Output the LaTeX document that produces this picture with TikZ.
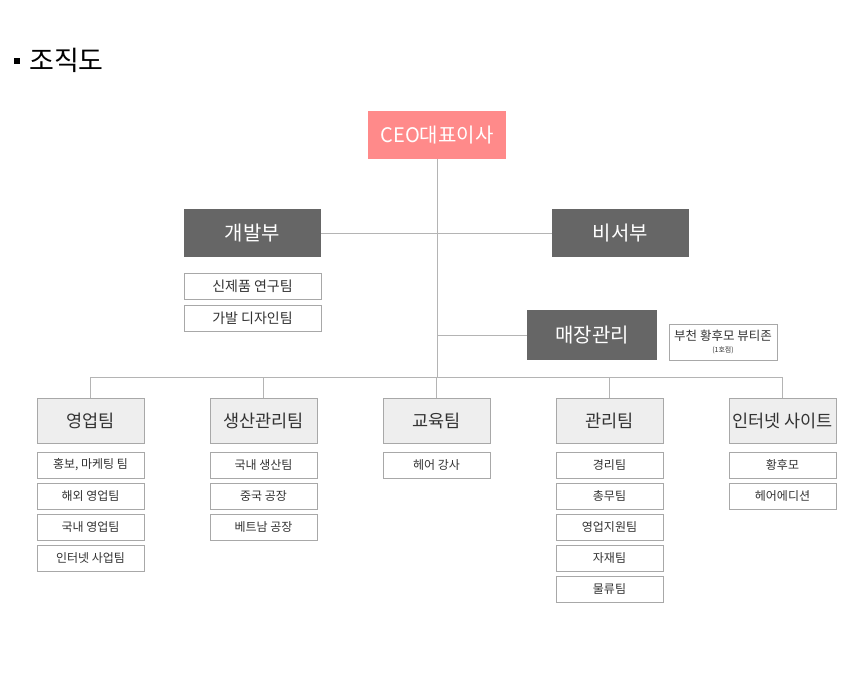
\documentclass[tikz,border=0pt]{standalone}
\usepackage{fontspec}
\setmainfont{Noto Sans CJK KR}
\usepackage{tikz}
\usetikzlibrary{positioning,calc}
\definecolor{ceopink}{HTML}{FF8A8A}
\definecolor{deptgray}{HTML}{666666}
\definecolor{teamfill}{HTML}{EEEEEE}
\definecolor{boxline}{HTML}{A8A8A8}
\definecolor{linegray}{HTML}{B4B4B4}
\definecolor{ink}{HTML}{333333}

\tikzset{
  ceobox/.style={fill=ceopink,text=white,inner sep=0pt,minimum width=138pt,minimum height=48pt,font=\fontsize{20}{22}\selectfont},
  deptbox/.style={fill=deptgray,text=white,inner sep=0pt,minimum width=137pt,minimum height=48pt,font=\fontsize{20}{22}\selectfont},
  teambox/.style={fill=teamfill,draw=boxline,text=ink,inner sep=0pt,minimum width=107pt,minimum height=45pt,font=\fontsize{17.5}{20}\selectfont},
  subbox/.style={fill=white,draw=boxline,text=ink,inner sep=0pt,minimum width=107pt,minimum height=26pt,font=\fontsize{12}{14}\selectfont},
  link/.style={draw=linegray,line width=0.8pt}
}

\begin{document}
\begin{tikzpicture}[x=1pt,y=-1pt]
  \useasboundingbox (0,0) rectangle (847,673);

  \fill[black] (14,58) rectangle (19.5,64);
  \node[anchor=west,inner sep=0pt,font=\fontsize{27}{30}\selectfont] (title) at (29,60) {조직도};

  \node[ceobox] (ceo) at (437,135) {CEO대표이사};
  \node[deptbox] (dev) at (252.5,233) {개발부};
  \node[deptbox] (sec) at (620.5,233) {비서부};
  \node[subbox,minimum width=137pt,font=\fontsize{14}{16}\selectfont] (dev1) at (252.5,286) {신제품 연구팀};
  \node[subbox,minimum width=137pt,font=\fontsize{14}{16}\selectfont] (dev2) at (252.5,318) {가발 디자인팀};

  \node[deptbox,minimum width=130pt,minimum height=50pt] (store) at (592,335) {매장관리};
  \node[subbox,minimum width=108pt,minimum height=36pt,align=center,font=\fontsize{12.5}{13}\selectfont] (shop) at (723,342)
    {부천 황후모 뷰티존\\[-1pt]{\fontsize{7}{8}\selectfont (1호점)}};

  \coordinate (bus) at (437,377);
  \node[teambox] (sales) at (90.5,420.5) {영업팀};
  \node[teambox] (prod) at (263.5,420.5) {생산관리팀};
  \node[teambox] (edu) at (436.5,420.5) {교육팀};
  \node[teambox] (mgmt) at (609.5,420.5) {관리팀};
  \node[teambox] (web) at (782.5,420.5) {인터넷 사이트};

  \foreach \t [count=\i] in {{홍보, 마케팅 팀},해외 영업팀,국내 영업팀,인터넷 사업팀}
    \node[subbox] (sales\i) at (90.5,434+31*\i) {\t};
  \foreach \t [count=\i] in {국내 생산팀,중국 공장,베트남 공장}
    \node[subbox] (prod\i) at (263.5,434+31*\i) {\t};
  \node[subbox] (edu1) at (436.5,465) {헤어 강사};
  \foreach \t [count=\i] in {경리팀,총무팀,영업지원팀,자재팀,물류팀}
    \node[subbox] (mgmt\i) at (609.5,434+31*\i) {\t};
  \foreach \t [count=\i] in {황후모,헤어에디션}
    \node[subbox] (web\i) at (782.5,434+31*\i) {\t};

  \draw[link] (ceo.south) -- (bus);
  \draw[link] (dev.east) -- (sec.west);
  \draw[link] (store.west) -- (store.west -| ceo.south);
  \draw[link] (sales.north |- bus) -- (web.north |- bus);
  \foreach \n in {sales,prod,edu,mgmt,web}
    \draw[link] (\n.north |- bus) -- (\n.north);
\end{tikzpicture}
\end{document}
